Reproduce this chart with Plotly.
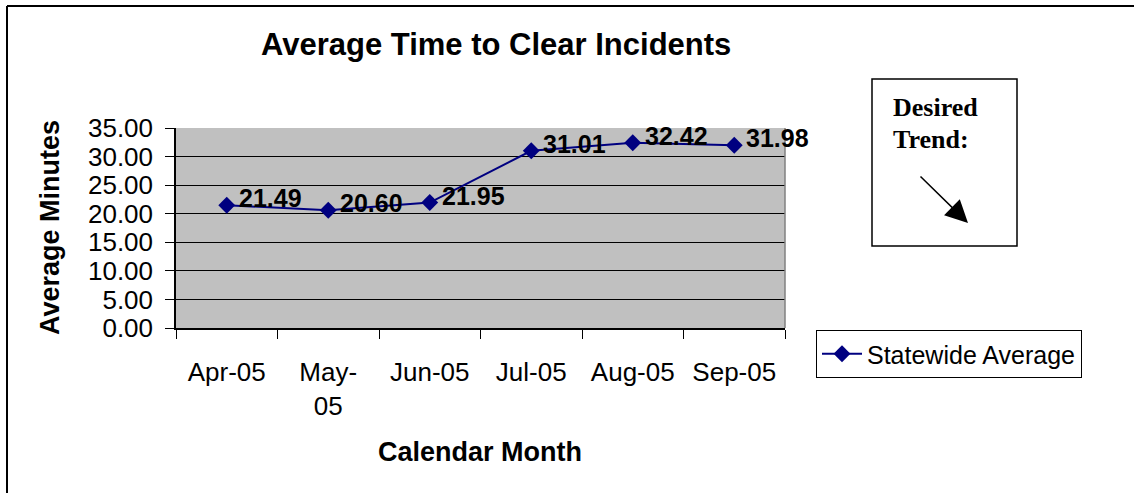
import plotly.graph_objects as go

months = ["Apr-05", "May-05", "Jun-05", "Jul-05", "Aug-05", "Sep-05"]
month_ticktext = ["Apr-05", "May-<br>05", "Jun-05", "Jul-05", "Aug-05", "Sep-05"]
avg_minutes = [21.49, 20.60, 21.95, 31.01, 32.42, 31.98]
y_ticks = [0, 5, 10, 15, 20, 25, 30, 35]

W, H = 1134, 493
L, R, T, B = 176, 785, 128, 328  # plot area in pixels


def px(x):
    return (x - L) / (R - L)


def py(y):
    return (B - y) / (B - T)


NAVY = "#000080"
SANS = "Liberation Sans, Arial, sans-serif"
SERIF = "Liberation Serif, Times New Roman, serif"

fig = go.Figure()
fig.add_trace(go.Scatter(
    x=months, y=avg_minutes, mode="lines+markers",
    name="Statewide Average",
    line=dict(color=NAVY, width=2),
    marker=dict(symbol="diamond", size=13, color=NAVY),
))

annotations = []
for m, v in zip(months, avg_minutes):
    annotations.append(dict(
        x=m, y=v, xref="x", yref="y", text=f"<b>{v:.2f}</b>",
        showarrow=False, xanchor="left", yanchor="middle",
        xshift=10, yshift=7,
        font=dict(family=SANS, size=25, color="black"),
    ))

annotations += [
    dict(x=px(496), y=py(44), xref="paper", yref="paper",
         text="<b>Average Time to Clear Incidents</b>", showarrow=False,
         xanchor="center", yanchor="middle",
         font=dict(family=SANS, size=31, color="black")),
    dict(x=px(50), y=py(228), xref="paper", yref="paper",
         text="<b>Average Minutes</b>", showarrow=False, textangle=-90,
         xanchor="center", yanchor="middle",
         font=dict(family=SANS, size=27, color="black")),
    dict(x=px(480), y=py(452), xref="paper", yref="paper",
         text="<b>Calendar Month</b>", showarrow=False,
         xanchor="center", yanchor="middle",
         font=dict(family=SANS, size=27, color="black")),
    dict(x=px(891), y=py(107), xref="paper", yref="paper",
         text="<b>Desired</b>", showarrow=False,
         xanchor="left", yanchor="middle",
         font=dict(family=SERIF, size=26, color="black")),
    dict(x=px(891), y=py(139), xref="paper", yref="paper",
         text="<b>Trend:</b>", showarrow=False,
         xanchor="left", yanchor="middle",
         font=dict(family=SERIF, size=26, color="black")),
    dict(x=px(968), y=py(223), xref="paper", yref="paper",
         ax=-49, ay=-48, text="", showarrow=True,
         arrowhead=2, arrowsize=3, arrowwidth=1.5, arrowcolor="black"),
]

shapes = [
    # outer chart border (top and left visible)
    dict(type="line", xref="paper", yref="paper",
         x0=px(7), y0=py(6), x1=px(1140), y1=py(6),
         line=dict(color="black", width=2)),
    dict(type="line", xref="paper", yref="paper",
         x0=px(7), y0=py(6), x1=px(7), y1=py(500),
         line=dict(color="black", width=2)),
    # desired trend box
    dict(type="rect", xref="paper", yref="paper",
         x0=px(872), y0=py(79), x1=px(1017), y1=py(246),
         line=dict(color="black", width=1.5), fillcolor="rgba(0,0,0,0)"),
    # plot area right border
    dict(type="line", xref="paper", yref="paper",
         x0=1, y0=0, x1=1, y1=1, line=dict(color="#808080", width=1.5)),
]

fig.update_layout(
    width=W, height=H,
    margin=dict(l=L, r=W - R, t=T, b=H - B, pad=0),
    paper_bgcolor="white", plot_bgcolor="#C0C0C0",
    showlegend=True,
    legend=dict(x=px(816), y=py(330), xanchor="left", yanchor="top",
                bordercolor="black", borderwidth=1, bgcolor="white",
                font=dict(family=SANS, size=25, color="black"),
                itemwidth=40),
    annotations=annotations, shapes=shapes,
    font=dict(family=SANS, color="black"),
)

fig.update_xaxes(
    type="category", tickmode="array", tickvals=months, ticktext=month_ticktext,
    range=[-0.5, len(months) - 0.5],
    tickson="boundaries", ticks="outside", ticklen=9, tickcolor="black",
    showline=True, linecolor="black", linewidth=1.5,
    showgrid=False, tickfont=dict(family=SANS, size=26, color="black"),
    ticklabelstandoff=20,
)
fig.update_yaxes(
    range=[0, 35], tickmode="array", tickvals=y_ticks, tickformat=".2f",
    ticks="outside", ticklen=9, tickcolor="black",
    showline=True, linecolor="black", linewidth=1.5,
    showgrid=True, gridcolor="black", gridwidth=1, zeroline=False,
    tickfont=dict(family=SANS, size=26, color="black"),
    ticklabelstandoff=7,
)

fig.write_html("out.html", post_script="document.body.style.margin='0';",
               config={"displayModeBar": False})
